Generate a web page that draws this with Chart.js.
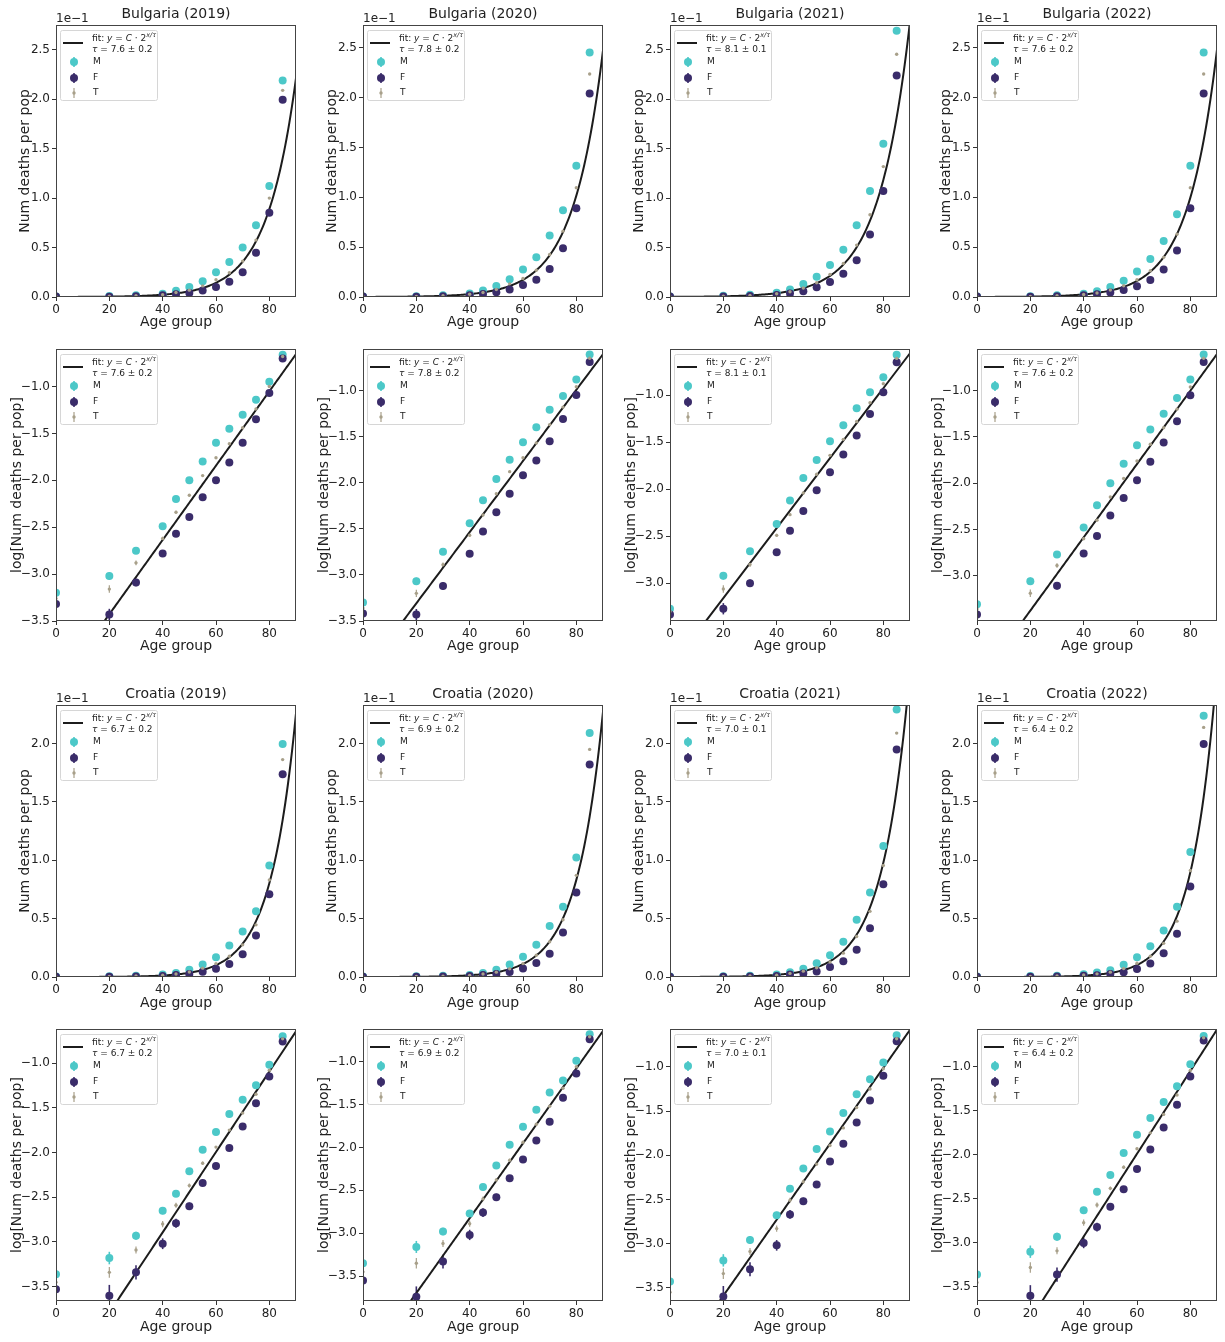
<!DOCTYPE html>
<html><head><meta charset="utf-8">
<script src="https://cdn.jsdelivr.net/npm/chart.js@4.4.1/dist/chart.umd.min.js"></script>
<style>
html,body{margin:0;padding:0;background:#fff;}
#wrap{position:relative;width:1225px;height:1342px;overflow:hidden;background:#fff;}
canvas{position:absolute;}
</style></head><body><div id="wrap"></div>
<script>
// ---------------- DATA (log10 of deaths per population) ----------------
const AGES = [0, 20, 30, 40, 45, 50, 55, 60, 65, 70, 75, 80, 85];
const X_TICKS = [0, 20, 40, 60, 80];
const COUNTRIES = ['Bulgaria', 'Croatia'];
const YEARS = ['2019', '2020', '2021', '2022'];
const SEX_LABELS = ['M', 'F', 'T'];

const BG2019_M = [-3.20,-3.02,-2.75,-2.49,-2.20,-2.00,-1.80,-1.60,-1.45,-1.30,-1.14,-0.95,-0.66];
const BG2019_F = [-3.32,-3.43,-3.09,-2.78,-2.57,-2.39,-2.18,-2.00,-1.81,-1.60,-1.35,-1.07,-0.70];
const BG2019_T = [-3.26,-3.16,-2.88,-2.62,-2.34,-2.16,-1.95,-1.76,-1.61,-1.44,-1.24,-1.00,-0.68];

const BG2020_M = [-3.30,-3.07,-2.75,-2.44,-2.19,-1.96,-1.75,-1.56,-1.40,-1.21,-1.06,-0.88,-0.61];
const BG2020_F = [-3.42,-3.43,-3.12,-2.77,-2.53,-2.32,-2.12,-1.92,-1.76,-1.55,-1.31,-1.05,-0.69];
const BG2020_T = [-3.36,-3.20,-2.89,-2.57,-2.35,-2.12,-1.88,-1.73,-1.57,-1.37,-1.18,-0.96,-0.65];

const BG2021_M = [-3.27,-2.92,-2.66,-2.37,-2.12,-1.88,-1.69,-1.49,-1.32,-1.14,-0.97,-0.81,-0.57];
const BG2021_F = [-3.33,-3.27,-3.00,-2.67,-2.44,-2.23,-2.01,-1.82,-1.63,-1.43,-1.20,-0.97,-0.65];
const BG2021_T = [-3.30,-3.06,-2.80,-2.49,-2.27,-2.04,-1.84,-1.64,-1.47,-1.28,-1.08,-0.88,-0.61];

const BG2022_M = [-3.31,-3.06,-2.77,-2.48,-2.24,-2.00,-1.79,-1.59,-1.42,-1.25,-1.08,-0.88,-0.61];
const BG2022_F = [-3.42,-3.60,-3.11,-2.76,-2.57,-2.35,-2.16,-1.97,-1.77,-1.56,-1.33,-1.05,-0.69];
const BG2022_T = [-3.36,-3.19,-2.89,-2.60,-2.40,-2.15,-1.95,-1.76,-1.58,-1.40,-1.20,-0.96,-0.65];

const CR2019_M = [-3.36,-3.18,-2.93,-2.65,-2.46,-2.21,-1.97,-1.77,-1.57,-1.41,-1.25,-1.02,-0.70];
const CR2019_F = [-3.53,-3.60,-3.34,-3.02,-2.79,-2.60,-2.34,-2.15,-1.95,-1.71,-1.45,-1.15,-0.76];
const CR2019_T = [-3.45,-3.34,-3.09,-2.80,-2.59,-2.37,-2.12,-1.94,-1.75,-1.56,-1.35,-1.08,-0.73];

const CR2020_M = [-3.35,-3.16,-2.98,-2.77,-2.46,-2.21,-1.97,-1.76,-1.56,-1.36,-1.22,-0.99,-0.68];
const CR2020_F = [-3.55,-3.74,-3.33,-3.02,-2.76,-2.58,-2.36,-2.14,-1.92,-1.70,-1.42,-1.14,-0.74];
const CR2020_T = [-3.45,-3.35,-3.12,-2.89,-2.60,-2.38,-2.15,-1.94,-1.73,-1.52,-1.31,-1.06,-0.71];

const CR2021_M = [-3.43,-3.19,-2.96,-2.68,-2.38,-2.15,-1.93,-1.73,-1.52,-1.31,-1.14,-0.95,-0.64];
const CR2021_F = [-3.75,-3.60,-3.29,-3.02,-2.67,-2.52,-2.33,-2.07,-1.87,-1.63,-1.38,-1.10,-0.71];
const CR2021_T = [-3.55,-3.34,-3.09,-2.83,-2.51,-2.30,-2.10,-1.89,-1.69,-1.46,-1.25,-1.02,-0.68];

const CR2022_M = [-3.36,-3.10,-2.93,-2.63,-2.42,-2.23,-1.98,-1.77,-1.58,-1.40,-1.22,-0.97,-0.65];
const CR2022_F = [-3.75,-3.60,-3.36,-3.00,-2.82,-2.59,-2.39,-2.16,-1.94,-1.69,-1.43,-1.11,-0.70];
const CR2022_T = [-3.45,-3.28,-3.09,-2.77,-2.57,-2.38,-2.14,-1.93,-1.75,-1.54,-1.32,-1.04,-0.67];

// error bars (log10 units)
const ERR_BG_M = [0.03,0.04,0.03,0.02,0.02,0.015,0.012,0.01,0.01,0.01,0.01,0.01,0.01];
const ERR_BG_F = [0.04,0.06,0.04,0.03,0.025,0.02,0.015,0.012,0.01,0.01,0.01,0.01,0.01];
const ERR_BG_T = [0.025,0.04,0.025,0.018,0.015,0.012,0.01,0.008,0.007,0.007,0.007,0.006,0.006];
const ERR_CR_M = [0.05,0.07,0.045,0.04,0.03,0.025,0.02,0.015,0.012,0.01,0.01,0.01,0.01];
const ERR_CR_F = [0.08,0.12,0.08,0.06,0.05,0.04,0.03,0.02,0.015,0.012,0.01,0.01,0.01];
const ERR_CR_T = [0.05,0.06,0.04,0.035,0.028,0.022,0.018,0.013,0.01,0.009,0.008,0.007,0.007];

// fit y = C * 2^(x/tau): tau, its error, log10(C)   (order: BG19..BG22, CR19..CR22)
const FIT_TAU     = [7.6, 7.8, 8.1, 7.6, 6.7, 6.9, 7.0, 6.4];
const FIT_TAU_ERR = [0.2, 0.2, 0.1, 0.2, 0.2, 0.2, 0.1, 0.2];
const FIT_LOG_C   = [-4.22, -4.08, -3.90, -4.17, -4.69, -4.57, -4.45, -4.81];

// axis limits
const LIN_YMAX = [2.75, 2.73, 2.75, 2.73, 2.33, 2.33, 2.33, 2.33];   // units of 1e-1
const LOG_YMIN = [-3.50, -3.50, -3.40, -3.49, -3.66, -3.79, -3.65, -3.66];
const LOG_YMAX = [-0.60, -0.55, -0.51, -0.55, -0.62, -0.62, -0.57, -0.57];

const SERIES = [
  [BG2019_M, BG2019_F, BG2019_T], [BG2020_M, BG2020_F, BG2020_T],
  [BG2021_M, BG2021_F, BG2021_T], [BG2022_M, BG2022_F, BG2022_T],
  [CR2019_M, CR2019_F, CR2019_T], [CR2020_M, CR2020_F, CR2020_T],
  [CR2021_M, CR2021_F, CR2021_T], [CR2022_M, CR2022_F, CR2022_T]
];
const ERRORS = [[ERR_BG_M, ERR_BG_F, ERR_BG_T], [ERR_CR_M, ERR_CR_F, ERR_CR_T]];

// ---------------- STYLE / LAYOUT ----------------
const COLORS = ['#4cc8c8', '#3a2c6a', '#a8a08a'];
const RADII = [4, 4, 1.7];
const ERR_W = [1.6, 1.6, 1.2];
const FIT_COLOR = '#1c1c1c';
const TXT = '#222';
Chart.defaults.font.family = "'DejaVu Sans', sans-serif";
Chart.defaults.color = TXT;

const ROWS = [
  {country: 0, kind: 'lin', top: 0,    h: 335, aTop: 25, aBot: 297, xlab: 322},
  {country: 0, kind: 'log', top: 335,  h: 340, aTop: 14, aBot: 286, xlab: 311},
  {country: 1, kind: 'lin', top: 680,  h: 335, aTop: 25, aBot: 297, xlab: 323},
  {country: 1, kind: 'log', top: 1015, h: 327, aTop: 14, aBot: 286, xlab: 312}
];
const COL_W = 307, AREA_L = 56, AREA_R = 296;

function fmtTick(v) {
  const s = (Math.round(v * 10) / 10).toFixed(1);
  return s.replace('-', '\u2212');
}

function drawRich(ctx, parts, x, y, size) {
  let cx = x;
  for (const p of parts) {
    const fs = p.sup ? size * 0.72 : size;
    ctx.font = (p.it ? 'italic ' : '') + fs + "px 'DejaVu Sans'";
    const yy = p.sup ? y - size * 0.38 : y;
    ctx.fillText(p.t, cx, yy);
    cx += ctx.measureText(p.t).width;
  }
}

const panelPlugin = {
  id: 'panel',
  beforeDatasetsDraw(chart) {
    const {ctx, chartArea: a} = chart;
    const xs = chart.scales.x, ys = chart.scales.y;
    ctx.save();
    ctx.beginPath(); ctx.rect(a.left, a.top, a.right - a.left, a.bottom - a.top); ctx.clip();
    chart.data.datasets.forEach(ds => {
      if (!ds.err) return;
      ctx.strokeStyle = ds.backgroundColor;
      ctx.lineWidth = ds.errW;
      ds.data.forEach((pt, j) => {
        const e = ds.err[j];
        const px = xs.getPixelForValue(pt.x);
        ctx.beginPath();
        ctx.moveTo(px, ys.getPixelForValue(pt.y - e));
        ctx.lineTo(px, ys.getPixelForValue(pt.y + e));
        ctx.stroke();
      });
    });
    ctx.restore();
  },
  afterDraw(chart) {
    const o = chart.options.plugins.panel;
    const {ctx, chartArea: a} = chart;
    ctx.save();
    // frame
    ctx.strokeStyle = '#444'; ctx.lineWidth = 1;
    ctx.strokeRect(Math.round(a.left) + 0.5, Math.round(a.top) + 0.5,
                   Math.round(a.right - a.left) - 1, Math.round(a.bottom - a.top) - 1);
    ctx.fillStyle = TXT;
    // title + offset text
    if (o.title) {
      ctx.font = "14px 'DejaVu Sans'";
      ctx.textAlign = 'center'; ctx.textBaseline = 'middle';
      ctx.fillText(o.title, (a.left + a.right) / 2, a.top - 11);
      ctx.font = "12px 'DejaVu Sans'";
      ctx.textAlign = 'left'; ctx.textBaseline = 'alphabetic';
      ctx.fillText('1e\u22121', a.left, a.top - 3);
    }
    // legend
    const bx = a.left + 4, by = a.top + 5, bw = 97, bh = 70;
    ctx.fillStyle = 'rgba(255,255,255,0.85)';
    ctx.strokeStyle = '#d6d6d6'; ctx.lineWidth = 1;
    ctx.beginPath();
    if (ctx.roundRect) ctx.roundRect(bx + 0.5, by + 0.5, bw, bh, 2); else ctx.rect(bx + 0.5, by + 0.5, bw, bh);
    ctx.fill(); ctx.stroke();
    ctx.strokeStyle = FIT_COLOR; ctx.lineWidth = 2;
    ctx.beginPath(); ctx.moveTo(bx + 3, by + 13); ctx.lineTo(bx + 23, by + 13); ctx.stroke();
    ctx.fillStyle = TXT; ctx.textAlign = 'left'; ctx.textBaseline = 'middle';
    drawRich(ctx, [{t: 'fit: '}, {t: 'y', it: 1}, {t: ' = '}, {t: 'C', it: 1}, {t: ' \u00b7 2'}, {t: 'x/\u03c4', it: 1, sup: 1}], bx + 32, by + 9, 9);
    drawRich(ctx, [{t: '\u03c4', it: 1}, {t: ' = ' + o.tau.toFixed(1) + ' \u00b1 ' + o.tauErr.toFixed(1)}], bx + 32, by + 20, 9);
    const my = [by + 32, by + 48, by + 63];
    for (let k = 0; k < 3; k++) {
      ctx.strokeStyle = COLORS[k]; ctx.lineWidth = ERR_W[k];
      ctx.beginPath(); ctx.moveTo(bx + 14, my[k] - 5); ctx.lineTo(bx + 14, my[k] + 5); ctx.stroke();
      ctx.fillStyle = COLORS[k];
      ctx.beginPath(); ctx.arc(bx + 14, my[k], RADII[k], 0, Math.PI * 2); ctx.fill();
      ctx.fillStyle = TXT; ctx.font = "9px 'DejaVu Sans'";
      ctx.fillText(SEX_LABELS[k], bx + 33, my[k]);
    }
    ctx.restore();
  }
};

const wrap = document.getElementById('wrap');
ROWS.forEach((row, r) => {
  YEARS.forEach((yr, c) => {
    const idx = row.country * 4 + c;
    const isLog = row.kind === 'log';
    const cv = document.createElement('canvas');
    cv.width = COL_W; cv.height = row.h;
    cv.style.left = (c * COL_W) + 'px'; cv.style.top = row.top + 'px';
    cv.style.width = COL_W + 'px'; cv.style.height = row.h + 'px';
    wrap.appendChild(cv);

    const tr = v => isLog ? v : Math.pow(10, v + 1); // linear panels in units of 1e-1
    const datasets = [];
    for (let k = 0; k < 3; k++) {
      datasets.push({
        type: 'scatter',
        data: AGES.map((x, j) => ({x: x, y: tr(SERIES[idx][k][j])})),
        backgroundColor: COLORS[k], borderWidth: 0,
        pointRadius: RADII[k], pointHoverRadius: RADII[k],
        err: isLog ? ERRORS[row.country][k] : null, errW: ERR_W[k],
        clip: 0, order: 3 - k
      });
    }
    const tau = FIT_TAU[idx], lc = FIT_LOG_C[idx];
    const fitX = [];
    for (let x = 0; x <= 90; x += 0.5) fitX.push(x);
    datasets.push({
      type: 'line',
      data: fitX.map(x => ({x: x, y: tr(lc + x * Math.LOG10E * Math.LN2 / tau)})),
      borderColor: FIT_COLOR, borderWidth: 2, pointRadius: 0, showLine: true,
      fill: false, tension: 0, clip: 0, order: 10
    });

    const yMin = isLog ? LOG_YMIN[idx] : 0;
    const yMax = isLog ? LOG_YMAX[idx] : LIN_YMAX[idx];
    const yTicks = [];
    for (let v = Math.ceil(yMin * 2 - 1e-9) / 2; v <= yMax + 1e-9; v += 0.5) yTicks.push(v);

    new Chart(cv, {
      type: 'scatter',
      data: {datasets},
      plugins: [panelPlugin],
      options: {
        responsive: false, animation: false, devicePixelRatio: 1,
        layout: {padding: {top: row.aTop, right: COL_W - AREA_R, left: 0, bottom: 0}},
        plugins: {
          legend: {display: false}, tooltip: {enabled: false},
          panel: {title: isLog ? null : COUNTRIES[row.country] + ' (' + yr + ')', tau: tau, tauErr: FIT_TAU_ERR[idx]}
        },
        scales: {
          x: {
            type: 'linear', min: 0, max: 90,
            afterBuildTicks: s => { s.ticks = X_TICKS.map(v => ({value: v})); },
            afterFit: s => { s.height = row.h - row.aBot; },
            grid: {display: true, drawOnChartArea: false, drawTicks: true, tickLength: 4, color: '#333'},
            border: {display: false},
            ticks: {font: {size: 12}, padding: 2, color: TXT, maxRotation: 0},
            title: {display: true, text: 'Age group', font: {size: 14}, color: TXT,
                    padding: {top: 0, bottom: row.h - row.xlab - 8.4}}
          },
          y: {
            type: 'linear', min: yMin, max: yMax,
            afterBuildTicks: s => { s.ticks = yTicks.map(v => ({value: v})); },
            afterFit: s => { s.width = AREA_L; },
            grid: {display: true, drawOnChartArea: false, drawTicks: true, tickLength: 4, color: '#333'},
            border: {display: false},
            ticks: {font: {size: 12}, padding: 2, color: TXT, callback: v => fmtTick(v)},
            title: {display: true, text: isLog ? 'log[Num deaths per pop]' : 'Num deaths per pop',
                    font: {size: 14}, color: TXT, padding: {top: isLog ? 8.6 : 16.6, bottom: 0}}
          }
        }
      }
    });
  });
});
</script></body></html>
